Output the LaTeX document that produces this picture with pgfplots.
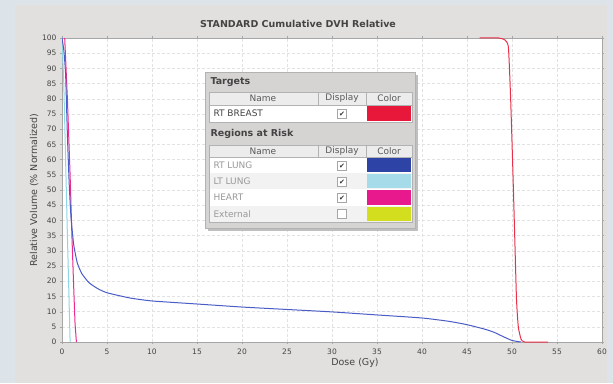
\documentclass[border=0pt]{standalone}
\usepackage{pgfplots}
\pgfplotsset{compat=1.18}
\usepackage{fontspec}
\setmainfont{DejaVu Sans}
\definecolor{bgblue}{HTML}{DCE4EA}
\definecolor{panel}{HTML}{E2E0DE}
\definecolor{gridc}{HTML}{E2E2E2}
\definecolor{lungR}{HTML}{4A5CC6}
\definecolor{lungL}{HTML}{8ED6E6}
\definecolor{heart}{HTML}{EE2A8E}
\definecolor{breast}{HTML}{E8304A}
\definecolor{boxred}{HTML}{E8183A}
\definecolor{boxblue}{HTML}{2E43A6}
\definecolor{boxcyan}{HTML}{A6DCEA}
\definecolor{boxmag}{HTML}{E8198C}
\definecolor{boxyel}{HTML}{D2DE1E}
\definecolor{tabbg}{HTML}{D6D4D2}
\definecolor{hdr}{HTML}{ECECEC}
\definecolor{txt}{HTML}{444444}
\newfontfamily\symfont{DejaVu Sans}
\newcommand{\chk}[2]{%
  \draw[fill=white,draw=gray!70] (#1-4.5,#2-4.5) rectangle (#1+4.5,#2+4.5);
  \node[font=\fontsize{7}{7}\selectfont\symfont,text=black!80,inner sep=0] at (#1,#2) {✔};}
\newcommand{\unchk}[2]{%
  \draw[fill=white,draw=gray!70] (#1-4.5,#2-4.5) rectangle (#1+4.5,#2+4.5);}
\tikzset{tabtxt/.style={font=\fontsize{9}{10}\selectfont}}
\begin{document}
\begin{tikzpicture}[x=1pt,y=1pt]
\fill[bgblue] (0,0) rectangle (613,383);
\fill[panel] (15,0) rectangle (607,378);
\begin{axis}[
  at={(62pt,41pt)}, anchor=south west,
  scale only axis, width=540pt, height=304pt,
  xmin=0, xmax=60, ymin=0, ymax=100,
  xtick={0,5,...,60}, ytick={0,5,...,100},
  grid=major,
  major grid style={gridc, dash pattern=on 3pt off 2pt, line width=0.5pt},
  axis line style={gray!70},
  tick style={gray!70}, tick align=outside, major tick length=2pt,
  axis background/.style={fill=white},
  ticklabel style={font=\fontsize{7.5}{8}\selectfont, text=txt},
  xticklabel style={yshift=-1pt},
  /pgf/number format/assume math mode=true,
  ylabel={Relative Volume (\% Normalized)},
  ylabel style={font=\fontsize{9.5}{10}\selectfont, text=txt, yshift=-3pt},
  clip=true,
]
\addplot[lungL, line width=1pt] coordinates {(0,100) (0.2,85) (0.4,60) (0.6,35) (0.8,12) (0.9,0)};
\addplot[heart, line width=1pt] coordinates {(0.3,100) (0.6,80) (0.9,55) (1.1,35) (1.3,18) (1.45,6) (1.6,0)};
\addplot[lungR, line width=1pt, smooth, tension=0.3] coordinates {
 (0,100) (0.2,96) (0.4,88) (0.6,68) (0.8,52) (1.0,41) (1.3,32) (1.7,26) (2.2,22.5)
 (3,19.5) (4,17.5) (5,16.2) (7.5,14.5) (10,13.5) (15,12.5) (20,11.5) (25,10.7)
 (30,9.9) (35,8.9) (40,7.9) (43,6.8) (45,5.7) (47,4.2) (48,3.2) (49,1.8) (50,0.5) (51,0)};
\addplot[breast, line width=1pt, smooth, tension=0.3] coordinates {
 (46.4,100) (48.5,100) (49.2,99.4) (49.6,97) (49.85,80) (50.1,56) (50.3,35) (50.5,14)
 (50.7,5) (51,1) (51.4,0) (54,0)};
\end{axis}
\node[font=\bfseries\fontsize{9.5}{10}\selectfont, text=txt] at (298,359) {STANDARD Cumulative DVH Relative};
\node[font=\fontsize{9.5}{10}\selectfont, text=txt] at (355,20) {Dose (Gy)};
% legend table
\fill[black!25] (208,152) rectangle (418,308);
\fill[tabbg] (205,155) rectangle (415,311);
\draw[gray!60] (205,155) rectangle (415,311);
\node[font=\bfseries\fontsize{9.5}{10}\selectfont, text=txt, anchor=west] at (207,301) {Targets};
\fill[hdr] (209,278) rectangle (412,291);
\fill[white] (209,261) rectangle (412,278);
\draw[gray!60] (209,261) rectangle (412,291);
\draw[gray!60] (209,278) -- (412,278);
\draw[gray!60] (318,278) -- (318,291);
\draw[gray!60] (366,278) -- (366,291);
\node[tabtxt, text=gray!70!black] at (263,284.5) {Name};
\node[tabtxt, text=gray!70!black] at (342,284.5) {Display};
\node[tabtxt, text=gray!70!black] at (389,284.5) {Color};
\node[tabtxt, text=txt, anchor=west] at (210,269.5) {RT BREAST};
\chk{342}{269}
\fill[boxred] (367,262) rectangle (411,277);
\node[font=\bfseries\fontsize{9.5}{10}\selectfont, text=txt, anchor=west] at (207,249) {Regions at Risk};
\fill[hdr] (209,226) rectangle (412,238);
\fill[white] (209,210) rectangle (412,226);
\fill[black!5] (209,194) rectangle (412,210);
\fill[white] (209,177) rectangle (412,194);
\fill[black!5] (209,161) rectangle (412,177);
\draw[gray!60] (209,161) rectangle (412,238);
\draw[gray!60] (209,226) -- (412,226);
\draw[gray!60] (318,226) -- (318,238);
\draw[gray!60] (366,226) -- (366,238);
\node[tabtxt, text=gray!70!black] at (263,232) {Name};
\node[tabtxt, text=gray!70!black] at (342,232) {Display};
\node[tabtxt, text=gray!70!black] at (389,232) {Color};
\node[tabtxt, text=gray!80, anchor=west] at (210,218) {RT LUNG};
\node[tabtxt, text=gray!80, anchor=west] at (210,202) {LT LUNG};
\node[tabtxt, text=gray!80, anchor=west] at (210,185.5) {HEART};
\node[tabtxt, text=gray!80, anchor=west] at (210,169) {External};
\chk{342}{217}
\chk{342}{201}
\chk{342}{185}
\unchk{342}{169}
\fill[boxblue] (367,211) rectangle (411,225);
\fill[boxcyan] (367,195) rectangle (411,209);
\fill[boxmag] (367,178) rectangle (411,193);
\fill[boxyel] (367,162) rectangle (411,176);
\end{tikzpicture}
\end{document}
